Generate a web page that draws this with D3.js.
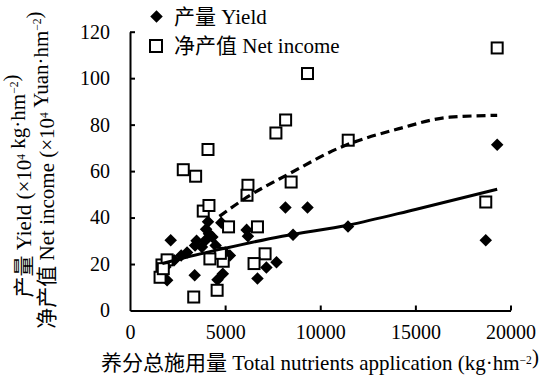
<!DOCTYPE html>
<html>
<head>
<meta charset="utf-8">
<script src="https://cdn.jsdelivr.net/npm/d3@7"></script>
<style>
  html, body { margin: 0; padding: 0; background: #fff; }
  svg { display: block; }
  text { font-family: "Liberation Serif", "Times New Roman", "Noto Sans CJK SC", serif; fill: #000; }
</style>
</head>
<body>
<svg id="chart" width="545" height="378"></svg>
<script>
// Total nutrient application (kg/hm2) and yield (10^4 kg/hm2)
const yieldX = [19300, 18700, 8170, 9330, 8570, 11460, 2140, 6130, 6200, 4800, 4100, 4150, 3970, 4330, 3500, 3420, 3780, 2690, 2320, 1860, 1950, 3400, 4600, 4880, 5250, 6700, 7170, 7700, 4000, 3000, 4500, 5000];
const yieldY = [71.3, 30.2, 44.3, 44.3, 32.6, 36.2, 30.2, 34.7, 32.0, 37.8, 38.2, 33.0, 30.2, 31.6, 30.0, 28.0, 27.3, 23.7, 21.6, 18.7, 13.0, 15.2, 13.2, 15.8, 23.7, 13.8, 18.5, 20.8, 35.0, 25.0, 28.0, 25.0];

// Total nutrient application (kg/hm2) and net income (10^4 Yuan/hm2)
const incomeX = [19300, 9330, 8180, 7670, 4100, 2800, 3450, 11470, 6200, 6150, 8470, 18700, 3850, 4150, 5180, 6700, 7100, 6520, 4900, 4750, 4200, 4580, 3350, 1580, 1680, 1950, 1750];
const incomeY = [113, 102, 82.0, 76.4, 69.3, 60.6, 57.8, 73.3, 53.9, 49.6, 55.3, 46.7, 42.8, 45.2, 36.0, 36.0, 24.4, 20.2, 21.2, 24.6, 22.2, 8.7, 5.8, 14.3, 19.6, 21.8, 18.0];

// Fitted trend curves
const yieldTrendX = [1700, 3000, 5000, 8000, 11500, 15000, 19300];
const yieldTrendY = [20.2, 23.0, 26.8, 32.0, 36.8, 43.5, 52.2];
const incomeTrendX = [4700, 6000, 8400, 11000, 14200, 16800, 19300];
const incomeTrendY = [40.5, 48.0, 59.0, 70.0, 78.4, 83.2, 84.0];

// Axis ticks
const xTicks = [0, 5000, 10000, 15000, 20000];
const yTicks = [0, 20, 40, 60, 80, 100, 120];

const svg = d3.select("#chart");

const x = d3.scaleLinear().domain([0, 20000]).range([130, 510.5]);
const y = d3.scaleLinear().domain([0, 120]).range([310.5, 31.7]);

// Axes with inward ticks
const xAxis = d3.axisBottom(x).tickValues(xTicks).tickFormat(d3.format("d"))
  .tickSizeInner(-5).tickSizeOuter(0).tickPadding(14);
const yAxis = d3.axisLeft(y).tickValues(yTicks).tickFormat(d3.format("d"))
  .tickSizeInner(-5).tickSizeOuter(0).tickPadding(20);

const gx = svg.append("g").attr("transform", `translate(0,${y(0)})`).call(xAxis);
const gy = svg.append("g").attr("transform", `translate(${x(0)},0)`).call(yAxis);

[gx, gy].forEach(g => {
  g.select(".domain").attr("stroke", "#000").attr("stroke-width", 2);
  g.selectAll(".tick line").attr("stroke", "#000").attr("stroke-width", 2);
  g.selectAll(".tick text").attr("font-size", 20).attr("fill", "#000")
    .style("font-family", '"Liberation Serif", "Times New Roman", serif');
});
gx.selectAll(".tick").filter(d => d === 0).select("line").remove();
gy.selectAll(".tick").filter(d => d === 0).select("line").remove();

// Marker shapes
const diamond = d3.symbol().type(d3.symbolDiamond2).size(100);
const yieldData = yieldX.map((v, i) => ({ x: v, y: yieldY[i] }));
const incomeData = incomeX.map((v, i) => ({ x: v, y: incomeY[i] }));

svg.append("g").selectAll("path").data(yieldData).join("path")
  .attr("d", diamond)
  .attr("transform", d => `translate(${x(d.x)},${y(d.y)})`)
  .attr("fill", "#000");

const sq = 11;
svg.append("g").selectAll("rect").data(incomeData).join("rect")
  .attr("x", d => x(d.x) - sq / 2)
  .attr("y", d => y(d.y) - sq / 2)
  .attr("width", sq).attr("height", sq)
  .attr("fill", "#fff").attr("stroke", "#000").attr("stroke-width", 2);

// Trend curves
const line = d3.line().x(d => x(d.x)).y(d => y(d.y)).curve(d3.curveMonotoneX);
svg.append("path")
  .datum(yieldTrendX.map((v, i) => ({ x: v, y: yieldTrendY[i] })))
  .attr("d", line).attr("fill", "none").attr("stroke", "#000").attr("stroke-width", 3);
svg.append("path")
  .datum(incomeTrendX.map((v, i) => ({ x: v, y: incomeTrendY[i] })))
  .attr("d", line).attr("fill", "none").attr("stroke", "#000").attr("stroke-width", 3.2)
  .attr("stroke-dasharray", "9,5");

// Legend
const legend = svg.append("g");
legend.append("path").attr("d", diamond).attr("transform", "translate(156.5,16.5)").attr("fill", "#000");
legend.append("text").attr("x", 174).attr("y", 24).attr("font-size", 21).text("产量 Yield");
legend.append("rect").attr("x", 150).attr("y", 40).attr("width", 12).attr("height", 12)
  .attr("fill", "#fff").attr("stroke", "#000").attr("stroke-width", 2);
legend.append("text").attr("x", 174).attr("y", 53).attr("font-size", 21).text("净产值 Net income");

// Text with superscripts: parts are [string, isSuperscript]
function richText(sel, parts, size) {
  parts.forEach(([s, sup]) => {
    if (sup) {
      sel.append("tspan").attr("font-size", size * 0.55).attr("dy", -size * 0.3).text(s);
      sel.append("tspan").attr("font-size", size).attr("dy", size * 0.3).text("");
    } else {
      sel.append("tspan").attr("font-size", size).text(s);
    }
  });
}

// X axis title
const xt = svg.append("text").attr("x", 320).attr("y", 370).attr("text-anchor", "middle");
richText(xt, [["养分总施用量 Total nutrients application (kg·hm", false], ["−2", true], [")", false]], 21);

// Y axis titles (two lines)
const yt1 = svg.append("text").attr("text-anchor", "middle")
  .attr("transform", "translate(31,186) rotate(-90)");
richText(yt1, [["产量 Yield (×10", false], ["4", true], [" kg·hm", false], ["−2", true], [")", false]], 21);
const yt2 = svg.append("text").attr("text-anchor", "middle")
  .attr("transform", "translate(54,170) rotate(-90)");
richText(yt2, [["净产值 Net income (×10", false], ["4", true], [" Yuan·hm", false], ["−2", true], [")", false]], 21);
</script>
</body>
</html>
